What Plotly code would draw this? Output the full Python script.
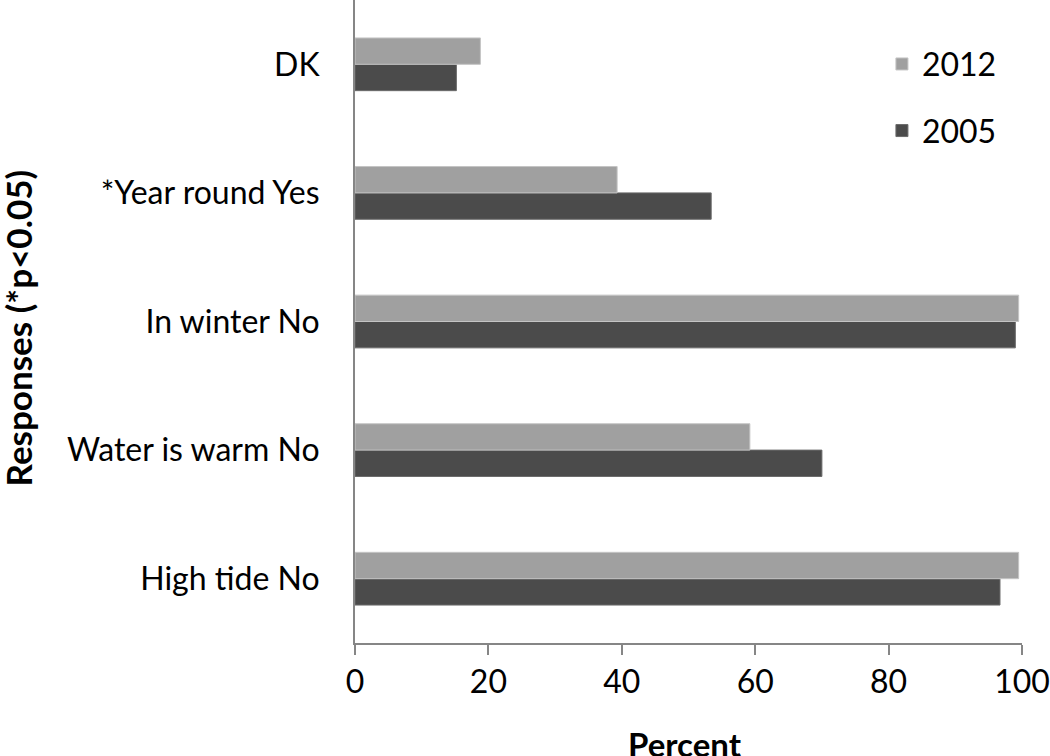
import plotly.graph_objects as go

categories = ["High tide No", "Water is warm No", "In winter No", "*Year round Yes", "DK"]
values_2005 = [96.7, 70.0, 99.0, 53.4, 15.2]
values_2012 = [99.5, 59.2, 99.5, 39.3, 18.8]
x_ticks = [0, 20, 40, 60, 80, 100]

FONT = "Lato, Carlito, Calibri, sans-serif"

fig = go.Figure()
fig.add_trace(go.Bar(
    y=categories, x=values_2005, name="2005", orientation="h",
    marker=dict(color="#4B4B4B", line=dict(color="#6a6a6a", width=1)),
    legendgroup="a", legendrank=2,
))
fig.add_trace(go.Bar(
    y=categories, x=values_2012, name="2012", orientation="h",
    marker=dict(color="#A0A0A0", line=dict(color="#c4c4c4", width=1)),
    legendgroup="b", legendrank=1,
))

fig.update_layout(
    width=1050, height=756,
    paper_bgcolor="white", plot_bgcolor="white",
    barmode="group", bargap=0.59, bargroupgap=0,
    margin=dict(l=355, r=28, t=0, b=113, autoexpand=False),
    font=dict(family=FONT, size=32, color="#000000"),
    legend=dict(
        x=0.79, y=0.943, xanchor="left", yanchor="top",
        font=dict(size=32), tracegroupgap=22,
        bgcolor="rgba(0,0,0,0)", itemwidth=30,
    ),
    xaxis=dict(
        range=[0, 100], tickvals=x_ticks, showgrid=False, zeroline=False,
        showline=True, linecolor="#868686", linewidth=2,
        ticks="outside", ticklen=10, tickcolor="#868686", tickwidth=2,
        tickfont=dict(size=32), automargin=False,
    ),
    yaxis=dict(
        type="category", categoryorder="array", categoryarray=categories,
        range=[-0.5, 4.5], showgrid=False, zeroline=False,
        showline=True, linecolor="#868686", linewidth=2,
        ticks="", ticklabelstandoff=27, tickfont=dict(size=32), automargin=False,
    ),
    annotations=[
        dict(text="<b>Percent</b>", xref="paper", yref="paper",
             x=0.495, y=-0.157, xanchor="center", yanchor="middle",
             showarrow=False, font=dict(size=33)),
        dict(text="<b>Responses (*p<0.05)</b>", xref="paper", yref="paper",
             x=-0.506, y=0.49, xanchor="center", yanchor="middle", textangle=-90,
             showarrow=False, font=dict(size=35)),
    ],
)

fig.write_html("out.html", config={"displayModeBar": False},
               post_script="document.body.style.margin='0';")
